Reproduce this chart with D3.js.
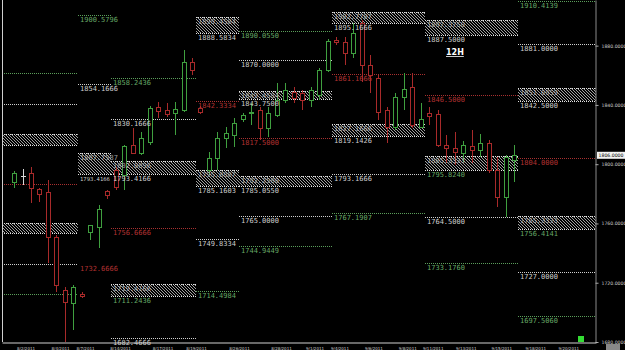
<!DOCTYPE html>
<html><head><meta charset="utf-8">
<script src="https://cdn.jsdelivr.net/npm/d3@7"></script>
<style>html,body{margin:0;padding:0;background:#000;overflow:hidden}</style>
</head><body>
<svg id="c" width="625" height="350"></svg>
<script>
// ---------- DATA ----------
const candleIndex = d3.range(60);
const candleOpen  = [1787.8,1791.9,1793.9,1783.1,1781.1,1750.7,1714.9,1706.1,1712.2,1754.1,
                     1757.4,1781.8,1795.9,1792.6,1812.8,1807.4,1814.9,1838.5,1836.5,1834.5,
                     1836.5,1868.9,1837.8,1795.9,1804.1,1817.6,1819.6,1830.4,1834.5,1836.5,
                     1824.3,1833.1,1843.2,1848.6,1848.0,1843.2,1846.6,1863.5,1883.8,1882.4,
                     1875.0,1895.3,1866.9,1858.1,1836.5,1825.0,1845.3,1852.0,1825.0,1834.5,
                     1833.8,1812.8,1810.8,1807.4,1812.2,1809.5,1814.2,1795.9,1777.7,1802.7];
const candleHigh  = [1795.3,1796.6,1798.0,1783.8,1789.2,1752.0,1716.9,1718.2,1713.5,1758.8,
                     1772.3,1782.4,1798.0,1812.8,1824.3,1821.6,1839.2,1841.9,1841.2,1841.9,
                     1877.0,1871.6,1839.2,1808.1,1821.6,1825.0,1831.1,1834.5,1841.2,1838.5,
                     1838.5,1854.7,1854.7,1852.0,1850.0,1852.0,1864.9,1884.5,1885.8,1885.8,
                     1895.3,1897.3,1873.6,1860.1,1838.5,1848.0,1861.5,1861.5,1841.2,1838.5,
                     1836.5,1819.6,1821.6,1815.5,1823.0,1820.3,1816.2,1804.7,1806.1,1812.8];
const candleLow   = [1783.8,1785.8,1773.6,1774.3,1733.1,1713.5,1679.7,1687.8,1709.5,1748.6,
                     1743.2,1776.4,1782.4,1782.4,1806.8,1806.1,1812.8,1831.1,1831.8,1819.6,
                     1835.1,1860.1,1833.8,1792.6,1795.9,1810.8,1811.5,1828.4,1826.4,1816.2,
                     1818.2,1831.8,1841.2,1841.2,1836.5,1838.5,1843.2,1862.2,1880.4,1866.9,
                     1871.6,1855.4,1848.0,1829.7,1814.2,1823.0,1836.5,1824.3,1824.3,1826.4,
                     1811.5,1800.7,1799.3,1801.4,1800.7,1804.7,1793.9,1770.9,1764.2,1787.8];
const candleClose = [1793.9,1791.9,1783.8,1779.7,1750.7,1718.2,1706.8,1716.9,1710.8,1758.8,
                     1769.6,1779.1,1784.5,1812.2,1807.4,1817.6,1837.8,1835.8,1833.8,1837.2,
                     1868.9,1863.5,1835.1,1804.1,1817.6,1820.9,1827.7,1833.1,1835.1,1824.3,
                     1834.5,1843.2,1850.0,1844.6,1843.2,1850.0,1863.5,1883.1,1882.4,1875.0,
                     1888.5,1866.9,1860.1,1835.1,1825.0,1845.3,1850.7,1826.4,1830.4,1832.4,
                     1812.8,1810.8,1808.1,1812.8,1809.5,1814.2,1795.9,1777.7,1804.7,1806.0];

// period boundaries, in candle-index units
const segmentStarts = [-1.42, 7.5, 11.5, 21.5, 26.5, 37.5, 48.5, 59.5];
const domainEnd = 68.67;

// single levels: segment, price, colour code, label
const levels = [
  {seg:0, price:1861.5, c:"g", label:null},
  {seg:0, price:1840.5, c:"w", label:null},
  {seg:0, price:1786.5, c:"r", label:null},
  {seg:0, price:1732.4, c:"w", label:null},
  {seg:0, price:1712.2, c:"g", label:null},
  {seg:1, price:1900.5796, c:"g", label:"1900.5796"},
  {seg:1, price:1854.1666, c:"w", label:"1854.1666"},
  {seg:1, price:1732.6666, c:"r", label:"1732.6666", noLine:true},
  {seg:2, price:1858.2436, c:"g", label:"1858.2436"},
  {seg:2, price:1830.1666, c:"w", label:"1830.1666"},
  {seg:2, price:1756.6666, c:"r", label:"1756.6666"},
  {seg:2, price:1682.4666, c:"w", label:"1682.4666"},
  {seg:3, price:1842.3334, c:"r", label:"1842.3334"},
  {seg:3, price:1749.8334, c:"w", label:"1749.8334"},
  {seg:3, price:1714.4984, c:"g", label:"1714.4984"},
  {seg:4, price:1890.0550, c:"g", label:"1890.0550"},
  {seg:4, price:1870.0000, c:"w", label:"1870.0000"},
  {seg:4, price:1817.5000, c:"r", label:"1817.5000"},
  {seg:4, price:1765.0000, c:"w", label:"1765.0000"},
  {seg:4, price:1744.9449, c:"g", label:"1744.9449"},
  {seg:5, price:1861.1666, c:"r", label:"1861.1666"},
  {seg:5, price:1793.1666, c:"w", label:"1793.1666"},
  {seg:5, price:1767.1907, c:"g", label:"1767.1907"},
  {seg:6, price:1846.5000, c:"r", label:"1846.5000"},
  {seg:6, price:1764.5000, c:"w", label:"1764.5000"},
  {seg:6, price:1733.1760, c:"g", label:"1733.1760"},
  {seg:7, price:1910.4139, c:"g", label:"1910.4139"},
  {seg:7, price:1881.0000, c:"w", label:"1881.0000"},
  {seg:7, price:1804.0000, c:"r", label:"1804.0000"},
  {seg:7, price:1727.0000, c:"w", label:"1727.0000"},
  {seg:7, price:1697.5060, c:"g", label:"1697.5060"}
];

// hatched zones: segment, top price, bottom price, colour code of bottom label
const zones = [
  {seg:0, top:1820.3, bottom:1812.8, c:"w", labels:false},
  {seg:0, top:1760.1, bottom:1753.4, c:"w", labels:false},
  {seg:1, top:1807.7587, bottom:1793.4166, c:"w", labels:true},
  {seg:2, top:1802.0896, bottom:1793.4166, c:"w", labels:true},
  {seg:2, top:1719.4166, bottom:1711.2436, c:"g", labels:true},
  {seg:3, top:1899.4584, bottom:1888.5834, c:"w", labels:true},
  {seg:3, top:1795.8887, bottom:1785.1603, c:"w", labels:true},
  {seg:4, top:1849.4584, bottom:1843.7500, c:"w", labels:true},
  {seg:4, top:1792.2500, bottom:1785.0550, c:"w", labels:true},
  {seg:5, top:1902.7707, bottom:1895.1666, c:"w", labels:true},
  {seg:5, top:1827.1666, bottom:1819.1426, c:"w", labels:true},
  {seg:6, top:1897.3750, bottom:1887.5000, c:"w", labels:true},
  {seg:6, top:1805.3333, bottom:1795.8240, c:"g", labels:true},
  {seg:7, top:1851.6959, bottom:1842.5000, c:"w", labels:true},
  {seg:7, top:1765.3333, bottom:1756.4141, c:"g", labels:true}
];

const priceTicks = [1680, 1720, 1760, 1800, 1840, 1880];
const dateTickPos = [1.36, 5.43, 8.38, 12.51, 17.52, 21.47, 26.54, 31.5, 35.46, 38.4, 42.4, 46.4, 49.4, 53.3, 57.5, 61.5, 65.4];
const dateTickLabels = ["8/2/2011","8/4/2011","8/7/2011","8/14/2011","8/17/2011","8/19/2011","8/26/2011","8/28/2011",
                        "9/1/2011","9/4/2011","9/6/2011","9/8/2011","9/11/2011","9/13/2011","9/15/2011","9/18/2011","9/20/2011"];
const lastPrice = 1806.0;
const timeframeLabel = "12H";

// ---------- DRAW ----------
const svg = d3.select("#c");
svg.append("rect").attr("width", 625).attr("height", 350).attr("fill", "#000");

const x = d3.scaleLinear().domain([segmentStarts[0], domainEnd]).range([2, 596]);
const y = d3.scaleLinear().domain([1680, 1910.81]).range([342, 0]);

const lineCol = {g:"#5a9e5a", r:"#a83030", w:"#cfcfcf"};
const textCol = {g:"#66a866", r:"#b33232", w:"#cdcdcd"};
const candleCol = {up:"#3f9f3f", down:"#a82a2a", flat:"#d8d8d8"};
const px = v => Math.round(v) + 0.5;
const segEnd = s => s + 1 < segmentStarts.length ? segmentStarts[s + 1] : domainEnd;

const defs = svg.append("defs");
const pat = defs.append("pattern").attr("id", "hatch").attr("patternUnits", "userSpaceOnUse")
  .attr("width", 3).attr("height", 3);
pat.append("rect").attr("width", 3).attr("height", 3).attr("fill", "#000");
pat.append("path").attr("d", "M0,0L3,3M-1,2L1,4M2,-1L4,1").attr("stroke", "#a0a0a0").attr("stroke-width", 1);
defs.append("clipPath").attr("id", "plot").append("rect").attr("x", 2).attr("y", 0).attr("width", 594).attr("height", 342);

const g = svg.append("g").attr("clip-path", "url(#plot)");

// zones
const zg = g.append("g");
zones.forEach(z => {
  const x0 = Math.round(x(segmentStarts[z.seg])), x1 = Math.round(x(segEnd(z.seg)));
  const yt = Math.round(y(z.top)), yb = Math.round(y(z.bottom));
  zg.append("rect").attr("x", x0).attr("y", yt).attr("width", x1 - x0).attr("height", yb - yt)
    .attr("fill", "url(#hatch)");
  [yt, yb].forEach(yy => zg.append("line").attr("x1", x0).attr("x2", x1).attr("y1", yy + 0.5).attr("y2", yy + 0.5)
    .attr("stroke", "#e0e0e0").attr("stroke-dasharray", "1,1"));
});

// levels
const lg = g.append("g");
levels.filter(l => !l.noLine).forEach(l => {
  const x0 = Math.round(x(segmentStarts[l.seg])), x1 = Math.round(x(segEnd(l.seg)));
  lg.append("line").attr("x1", x0).attr("x2", x1).attr("y1", px(y(l.price))).attr("y2", px(y(l.price)))
    .attr("stroke", lineCol[l.c]).attr("stroke-dasharray", "1,1");
});

// candles
const cg = g.append("g");
candleIndex.forEach(i => {
  const o = candleOpen[i], c = candleClose[i], h = candleHigh[i], l = candleLow[i];
  const col = c > o ? candleCol.up : (c < o ? candleCol.down : candleCol.flat);
  const cx = px(x(i));
  cg.append("line").attr("x1", cx).attr("x2", cx).attr("y1", Math.round(y(h))).attr("y2", Math.round(y(l)))
    .attr("stroke", col);
  const yt = Math.round(y(Math.max(o, c))), yb = Math.round(y(Math.min(o, c)));
  if (yb - yt < 1) {
    cg.append("line").attr("x1", cx - 2.5).attr("x2", cx + 2.5).attr("y1", yt + 0.5).attr("y2", yt + 0.5).attr("stroke", col);
  } else {
    cg.append("rect").attr("x", cx - 2).attr("y", yt + 0.5).attr("width", 4).attr("height", yb - yt)
      .attr("fill", "#000").attr("stroke", col);
  }
});

// labels (shrunk only where they would run into the next period's label on the same row)
const labelItems = [];
levels.filter(l => l.label).forEach(l => labelItems.push({seg:l.seg, yb:y(l.price) + 7.0, fill:textCol[l.c], text:l.label, op:1}));
zones.filter(z => z.labels).forEach(z => {
  labelItems.push({seg:z.seg, yb:y(z.top) + 7.0, fill:"#c4c4c4", text:d3.format(".4f")(z.top), op:0.8});
  labelItems.push({seg:z.seg, yb:y(z.bottom) + 7.0, fill:textCol[z.c], text:d3.format(".4f")(z.bottom), op:1});
});
const tg = svg.append("g").attr("font-family", "'DejaVu Sans Mono', monospace").attr("font-size", 7);
labelItems.forEach(d => {
  const x0 = Math.round(x(segmentStarts[d.seg])) + 2;
  const t = tg.append("text").attr("x", x0).attr("y", d.yb).attr("fill", d.fill).attr("opacity", d.op).text(d.text);
  const clash = labelItems.some(o => o.seg === d.seg + 1 && Math.abs(o.yb - d.yb) < 3);
  if (clash) {
    const room = Math.round(x(segmentStarts[d.seg + 1])) + 2 - x0 - 3;
    const w = t.node().getComputedTextLength();
    if (w > room) t.attr("font-size", 7 * room / w);
  }
});

// frame line
svg.append("line").attr("x1", 2.5).attr("x2", 2.5).attr("y1", 0).attr("y2", 342).attr("stroke", "#cfcfcf");

// axes
const ay = svg.append("g").attr("transform", "translate(595.5,0)")
  .call(d3.axisRight(y).tickValues(priceTicks).tickFormat(d3.format(".4f")).tickSize(3).tickSizeOuter(0));
ay.select(".domain").attr("stroke", "#8a8a8a");
ay.selectAll(".tick line").attr("stroke", "#aaa");
ay.selectAll(".tick text").attr("fill", "#cfcfcf").attr("font-size", 4.6).attr("font-family", "'DejaVu Sans', sans-serif").attr("x", 6);

const ax = svg.append("g").attr("transform", "translate(0,342.5)")
  .call(d3.axisBottom(x).tickValues(dateTickPos).tickFormat((d, i) => dateTickLabels[i]).tickSize(0).tickSizeOuter(0).tickPadding(4.8));
ax.select(".domain").attr("stroke", "#d0d0d0");
ax.selectAll(".tick text").attr("fill", "#cfcfcf").attr("font-size", 4).attr("font-family", "'DejaVu Sans', sans-serif");

// current price tag
const yp = y(lastPrice);
svg.append("rect").attr("x", 597).attr("y", yp - 3.5).attr("width", 28).attr("height", 7).attr("fill", "#f2f2f2");
svg.append("text").attr("x", 611).attr("y", yp + 1.6).attr("text-anchor", "middle").attr("font-size", 4.6)
  .attr("font-family", "'DejaVu Sans', sans-serif").attr("fill", "#000").text(d3.format(".4f")(lastPrice));

// timeframe label
svg.append("text").attr("x", 446).attr("y", 55).attr("font-size", 8).attr("font-weight", "bold")
  .attr("font-family", "'DejaVu Sans', sans-serif").attr("fill", "#fff").attr("text-decoration", "underline").text(timeframeLabel);

// small status markers
svg.append("rect").attr("x", 578).attr("y", 336).attr("width", 6).attr("height", 6).attr("fill", "#33dd33");
svg.append("rect").attr("x", 606).attr("y", 344).attr("width", 14).attr("height", 6).attr("fill", "#888");
</script>
</body></html>
